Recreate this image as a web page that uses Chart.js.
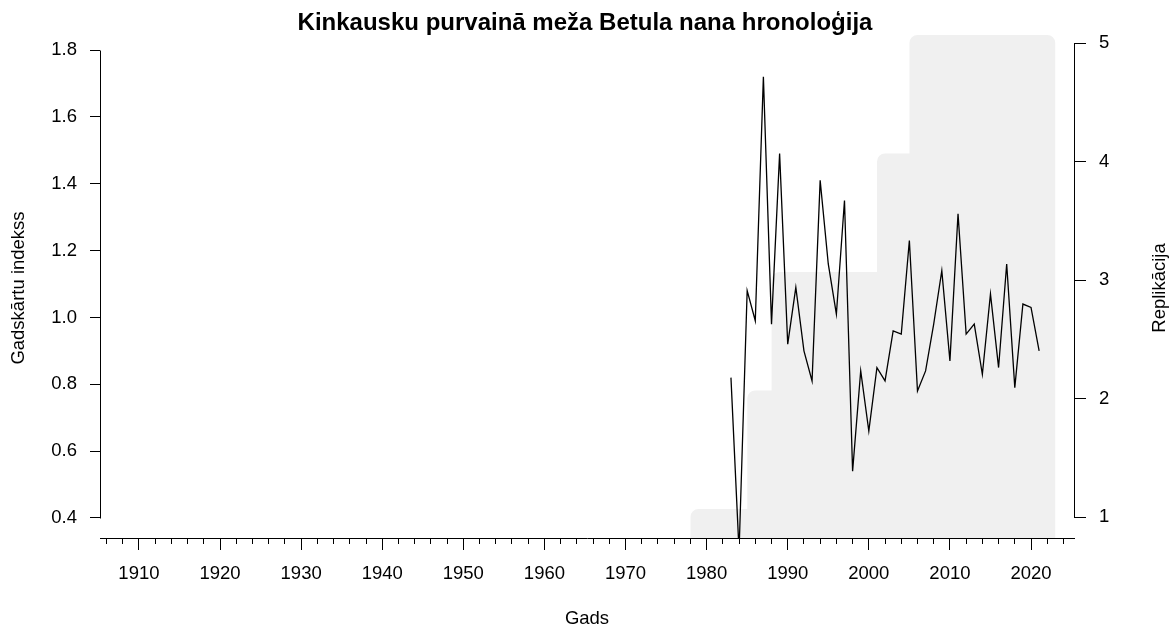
<!DOCTYPE html>
<html>
<head>
<meta charset="utf-8">
<script src="https://cdn.jsdelivr.net/npm/chart.js@4"></script>
<style>
	html, body { margin: 0; padding: 0; background: #fff; }
	#wrap { width: 1170px; height: 630px; }
</style>
</head>
<body>
<div id="wrap"><canvas id="chart" width="1170" height="630"></canvas></div>
<script>
// ring width index (left axis)
const years = [1983, 1984, 1985, 1986, 1987, 1988, 1989, 1990, 1991, 1992,
	1993, 1994, 1995, 1996, 1997, 1998, 1999, 2000, 2001, 2002,
	2003, 2004, 2005, 2006, 2007, 2008, 2009, 2010, 2011, 2012,
	2013, 2014, 2015, 2016, 2017, 2018, 2019, 2020, 2021];
const ringIndex = [0.82, 0.30, 1.08, 0.99, 1.72, 0.98, 1.49, 0.92, 1.09, 0.90,
	0.81, 1.41, 1.16, 1.01, 1.35, 0.54, 0.84, 0.66, 0.85, 0.81,
	0.96, 0.95, 1.23, 0.78, 0.84, 0.98, 1.14, 0.87, 1.31, 0.95,
	0.98, 0.83, 1.07, 0.85, 1.16, 0.79, 1.04, 1.03, 0.90];

// sample depth (right axis)
const depthYears = [1979, 1980, 1981, 1982, 1983, 1984, 1985, 1986, 1987, 1988,
	1989, 1990, 1991, 1992, 1993, 1994, 1995, 1996, 1997, 1998,
	1999, 2000, 2001, 2002, 2003, 2004, 2005, 2006, 2007, 2008,
	2009, 2010, 2011, 2012, 2013, 2014, 2015, 2016, 2017, 2018,
	2019, 2020, 2021, 2022];
const depth = [1, 1, 1, 1, 1, 1, 1, 2, 2, 2,
	3, 3, 3, 3, 3, 3, 3, 3, 3, 3,
	3, 3, 3, 4, 4, 4, 4, 5, 5, 5,
	5, 5, 5, 5, 5, 5, 5, 5, 5, 5,
	5, 5, 5, 5];

// axis ticks
const xLabelYears = [1910, 1920, 1930, 1940, 1950, 1960, 1970, 1980, 1990, 2000, 2010, 2020];
const xFirstTick = 1906;
const xLastTick = 2024;
const leftTicks = [0.4, 0.6, 0.8, 1.0, 1.2, 1.4, 1.6, 1.8];
const rightTicks = [1, 2, 3, 4, 5];

const FONT = "'Liberation Sans', Arial, sans-serif";
const tickFont = { family: FONT, size: 18.5 };
const Y2_MIN = 0.8228;

// depth drawn as a closed step polygon (down to the axis floor at both ends)
let depthPoints = () => {
	let pts = depthYears.map((yr, i) => ({ x: yr, y: depth[i] }));
	pts.unshift({ x: depthYears[0], y: Y2_MIN });
	pts.push({ x: depthYears[depthYears.length - 1], y: Y2_MIN });
	return pts;
};

// R-style axis lines that stop at the first and last tick, plus the right title
let rAxisLines = {
	id: 'rAxisLines',
	afterDraw (chart) {
		let { ctx, chartArea, scales } = chart;
		let xl = Math.round(chartArea.left) + 0.5;
		let xr = Math.round(chartArea.right) + 0.5;
		ctx.save();
		ctx.strokeStyle = '#000';
		ctx.lineWidth = 1;
		ctx.beginPath();
		ctx.moveTo(xl, Math.round(scales.y.getPixelForValue(leftTicks[0])) + 0.5);
		ctx.lineTo(xl, Math.round(scales.y.getPixelForValue(leftTicks[leftTicks.length - 1])) + 0.5);
		ctx.moveTo(xr, Math.round(scales.y2.getPixelForValue(rightTicks[0])) + 0.5);
		ctx.lineTo(xr, Math.round(scales.y2.getPixelForValue(rightTicks[rightTicks.length - 1])) + 0.5);
		ctx.stroke();

		// right axis title reads bottom to top, like the left one
		ctx.translate(1160, (chartArea.top + chartArea.bottom) / 2);
		ctx.rotate(-Math.PI / 2);
		ctx.fillStyle = '#000';
		ctx.font = '18.5px ' + FONT;
		ctx.textAlign = 'center';
		ctx.textBaseline = 'middle';
		ctx.fillText('Replikācija', 0, 0);
		ctx.restore();
	},
};

new Chart(document.getElementById('chart'), {
	type: 'line',
	data: {
		datasets: [
			{
				label: 'Gadskārtu indekss',
				data: years.map((yr, i) => ({ x: yr, y: ringIndex[i] })),
				yAxisID: 'y',
				borderColor: '#000',
				borderWidth: 1.3,
				pointRadius: 0,
				tension: 0,
				fill: false,
				order: 1,
			},
			{
				label: 'Replikācija',
				data: depthPoints(),
				yAxisID: 'y2',
				stepped: 'before',
				fill: 'start',
				backgroundColor: '#f0f0f0',
				borderColor: '#f0f0f0',
				borderWidth: 16,
				borderJoinStyle: 'round',
				borderCapStyle: 'butt',
				pointRadius: 0,
				clip: { left: 12, top: 12, right: 12, bottom: 0 },
				order: 2,
			},
		],
	},
	options: {
		responsive: false,
		animation: false,
		events: [],
		devicePixelRatio: 1,
		layout: { padding: 0 },
		plugins: {
			legend: { display: false },
			tooltip: { enabled: false },
			title: {
				display: true,
				text: 'Kinkausku purvainā meža Betula nana hronoloģija',
				color: '#000',
				font: { family: FONT, size: 24, weight: 'bold', lineHeight: 1.25 },
				padding: { top: 8, bottom: 0 },
			},
		},
		scales: {
			x: {
				type: 'linear',
				position: 'bottom',
				min: 1905.2,
				max: 2025.3,
				afterFit: (scale) => { scale.height = 92; },
				afterBuildTicks: (scale) => {
					let ticks = [];
					for (let yr = xFirstTick; yr <= xLastTick; yr += 2) {
						ticks.push({ value: yr });
					}
					scale.ticks = ticks;
				},
				grid: {
					drawOnChartArea: false,
					drawTicks: true,
					tickLength: 12,
					tickColor: '#000',
					tickWidth: 1,
					tickBorderDash: (ctx) => (ctx.tick && xLabelYears.includes(ctx.tick.value) ? [] : [5, 40]),
				},
				border: { display: true, color: '#000', width: 1 },
				ticks: {
					color: '#000',
					font: tickFont,
					padding: 13,
					autoSkip: false,
					maxRotation: 0,
					callback: (v) => (xLabelYears.includes(v) ? String(v) : ''),
				},
				title: {
					display: true,
					text: 'Gads',
					color: '#000',
					font: tickFont,
					padding: { top: 0, bottom: 0 },
				},
			},
			y: {
				position: 'left',
				min: 0.34017,
				max: 1.8359,
				afterFit: (scale) => { scale.width = 100; },
				afterBuildTicks: (scale) => {
					scale.ticks = leftTicks.map(v => ({ value: v }));
				},
				grid: {
					drawOnChartArea: false,
					tickLength: 10,
					tickColor: '#000',
				},
				border: { display: false },
				ticks: {
					color: '#000',
					font: tickFont,
					padding: 13,
					callback: (v) => Number(v).toFixed(1),
				},
				title: {
					display: true,
					text: 'Gadskārtu indekss',
					color: '#000',
					font: tickFont,
					padding: { top: 8, bottom: 0 },
				},
			},
			y2: {
				position: 'right',
				min: Y2_MIN,
				max: 5.0422,
				afterFit: (scale) => { scale.width = 96; },
				afterBuildTicks: (scale) => {
					scale.ticks = rightTicks.map(v => ({ value: v }));
				},
				grid: {
					drawOnChartArea: false,
					tickLength: 12,
					tickColor: '#000',
				},
				border: { display: false },
				ticks: {
					color: '#000',
					font: tickFont,
					padding: 13,
					callback: (v) => String(v),
				},
			},
		},
	},
	plugins: [ rAxisLines ],
});
</script>
</body>
</html>
